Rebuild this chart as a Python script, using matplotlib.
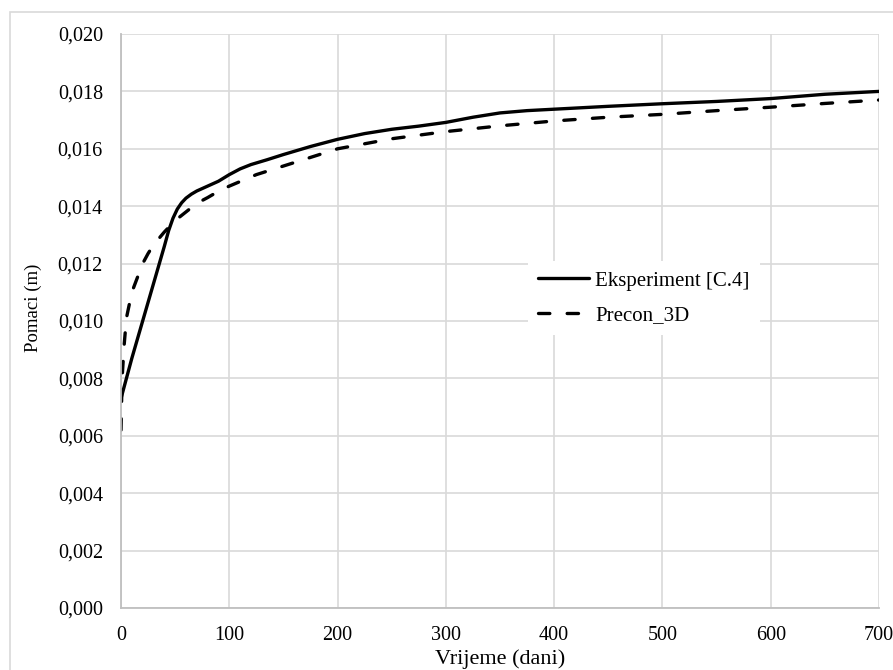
import numpy as np
import matplotlib as mpl
mpl.use('Agg')
import matplotlib.pyplot as plt
from matplotlib.patches import Rectangle
from matplotlib.ticker import FuncFormatter

plt.rcParams['font.family'] = ['Liberation Serif', 'DejaVu Serif']

# Eksperiment [C.4]
t_exp = [0, 5, 10, 20, 30, 40, 44, 48, 52, 56, 60, 65, 70, 80, 90, 100, 110,
         120, 135, 150, 175, 200, 225, 250, 275, 300, 325, 350, 375, 400, 450,
         500, 550, 600, 650, 700]
v_exp = [0.0073, 0.0080, 0.0087, 0.0100, 0.0113, 0.0126, 0.01315, 0.01358,
         0.01390, 0.01412, 0.01428, 0.01442, 0.01453, 0.0147, 0.01487, 0.0151,
         0.0153, 0.01545, 0.01562, 0.0158, 0.01608, 0.01633, 0.01653, 0.01668,
         0.01679, 0.01692, 0.0171, 0.01725, 0.01733, 0.01738, 0.01748, 0.01757,
         0.01765, 0.01775, 0.0179, 0.0180]

# Precon_3D
t_pre = [0, 1, 3, 5, 10, 15, 20, 25, 30, 40, 50, 60, 70, 80, 90, 100, 125, 150,
         175, 200, 250, 300, 350, 400, 450, 500, 550, 600, 650, 700]
v_pre = [0.0062, 0.0080, 0.0092, 0.0101, 0.0110, 0.0115, 0.0120, 0.01235,
         0.01265, 0.0131, 0.0135, 0.0138, 0.0141, 0.0143, 0.01452, 0.0147,
         0.0151, 0.0154, 0.0157, 0.0160, 0.01635, 0.0166, 0.0168, 0.01697,
         0.0171, 0.0172, 0.01733, 0.01745, 0.01758, 0.0177]

x_ticks = [0, 100, 200, 300, 400, 500, 600, 700]
y_ticks = np.arange(0, 0.0201, 0.002)

W, H = 893, 670
fig = plt.figure(figsize=(W / 100, H / 100), dpi=100)
ax = fig.add_axes([121 / W, 1 - 608 / H, 758 / W, 574 / H])

# outer chart border
fig.patches.append(Rectangle((10 / W, -0.05), 1.1, 1 - 12 / H + 0.05,
                             transform=fig.transFigure, fill=False,
                             edgecolor='#d9d9d9', lw=1.2))

ax.plot(t_exp, v_exp, color='black', lw=2.4, solid_capstyle='round',
        solid_joinstyle='round', label='Eksperiment [C.4]')
ln, = ax.plot(t_pre, v_pre, color='black', lw=2.4, dash_capstyle='round',
              label='Precon_3D')
ln.set_dashes((3.4, 5.2))

ax.set_xlim(0, 700)
ax.set_ylim(0, 0.020)
ax.set_xticks(x_ticks)
ax.set_yticks(y_ticks)
ax.yaxis.set_major_formatter(FuncFormatter(lambda v, p: ('%.3f' % v).replace('.', ',')))
ax.grid(True, color='#d9d9d9', lw=1.2)
ax.set_axisbelow(True)
for s in ['top', 'right']:
    ax.spines[s].set_visible(False)
for s in ['left', 'bottom']:
    ax.spines[s].set_color('#bfbfbf')
    ax.spines[s].set_linewidth(1.3)
ax.tick_params(length=0, labelsize=14.5)
ax.tick_params(axis='y', pad=13)
ax.tick_params(axis='x', pad=13)

ax.text(0.5, (608 - 659) / 574, 'Vrijeme (dani)', transform=ax.transAxes,
        ha='center', va='center', fontsize=16)
ax.text((33 - 121) / 758, (608 - 308) / 574, 'Pomaci (m)', transform=ax.transAxes,
        ha='center', va='center', rotation=90, fontsize=13.5)

leg = ax.legend(loc='center', bbox_to_anchor=((644 - 121) / 758, (608 - 298) / 574),
                fontsize=15, frameon=True, fancybox=False, framealpha=1,
                edgecolor='none', facecolor='white', handlelength=2.45,
                handletextpad=0.3, labelspacing=0.7, borderpad=0.5)

fig.savefig('out.png', dpi=100)
